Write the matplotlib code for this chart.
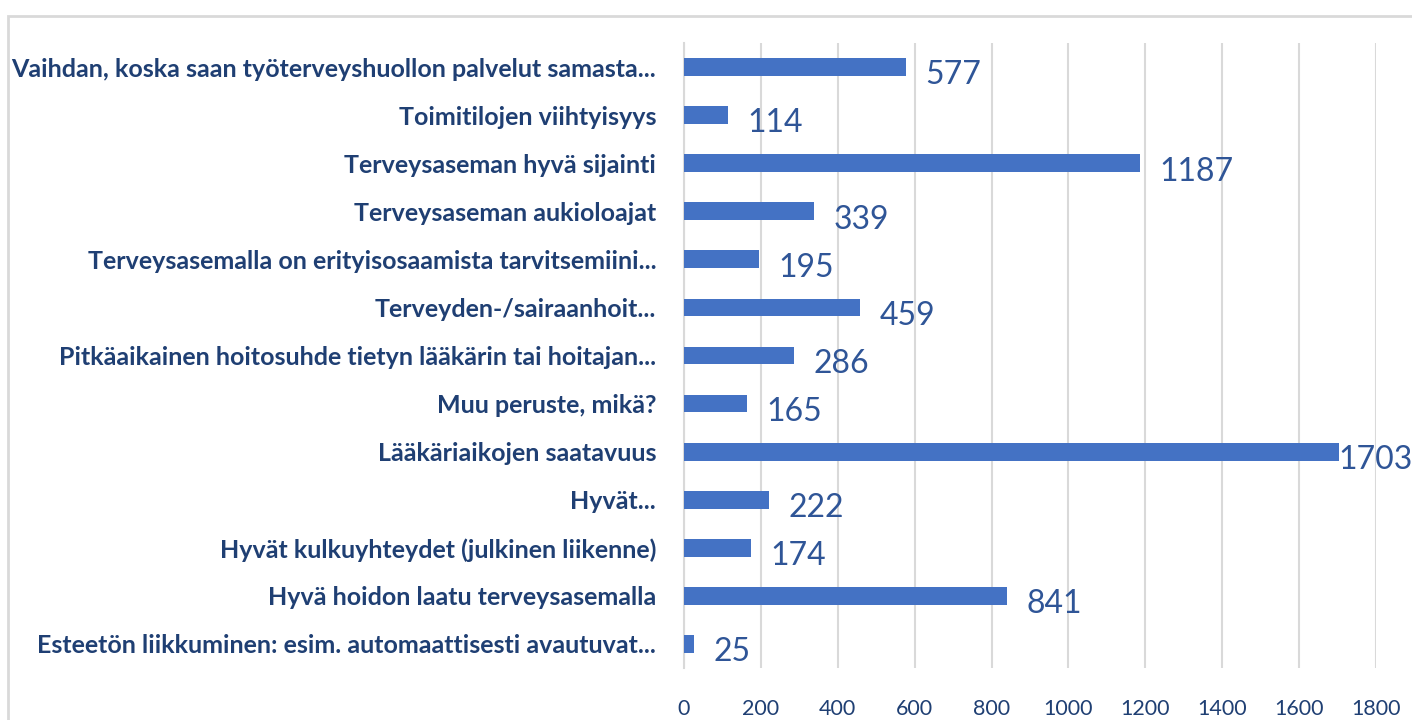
import matplotlib.pyplot as plt
from matplotlib.patches import Rectangle

categories = [
    'Vaihdan, koska saan työterveyshuollon palvelut samasta...',
    'Toimitilojen viihtyisyys',
    'Terveysaseman hyvä sijainti',
    'Terveysaseman aukioloajat',
    'Terveysasemalla on erityisosaamista tarvitsemiini...',
    'Terveyden-/sairaanhoit...',
    'Pitkäaikainen hoitosuhde tietyn lääkärin tai hoitajan...',
    'Muu peruste, mikä?',
    'Lääkäriaikojen saatavuus',
    'Hyvät...',
    'Hyvät kulkuyhteydet (julkinen liikenne)',
    'Hyvä hoidon laatu terveysasemalla',
    'Esteetön liikkuminen: esim. automaattisesti avautuvat...',
]
values = [577, 114, 1187, 339, 195, 459, 286, 165, 1703, 222, 174, 841, 25]
xticks = [0, 200, 400, 600, 800, 1000, 1200, 1400, 1600, 1800]

bar_color = '#4472C4'
text_color = '#1F3F73'
plt.rcParams['font.family'] = ['Lato', 'DejaVu Sans']

fig = plt.figure(figsize=(14.12, 7.2), dpi=100)
ax = fig.add_axes([0.4844, 0.0722, 0.4901, 0.8681])

y = list(range(len(categories)))
ax.barh(y, values, height=0.37, color=bar_color, zorder=3)
ax.set_ylim(len(categories) - 0.5, -0.5)
ax.set_xlim(0, 1800)
ax.set_xticks(xticks)
ax.set_yticks(y)
ax.set_yticklabels(categories, fontsize=18, fontweight='bold', color=text_color)
ax.tick_params(axis='y', length=0, pad=20)
ax.tick_params(axis='x', length=0, pad=22, labelsize=15.5, labelcolor=text_color)
ax.grid(axis='x', color='#D9D9D9', linewidth=1.5, zorder=0)
for s in ['top', 'right', 'bottom']:
    ax.spines[s].set_visible(False)
ax.spines['left'].set_color('#D9D9D9')
ax.spines['left'].set_linewidth(1.5)

for yi, v in zip(y, values):
    off = 14 if v < 1600 else 0
    ax.annotate(str(v), (v, yi), xytext=(off, -6), textcoords='offset points',
                va='center', ha='left', fontsize=23, color='#2F5597', zorder=4)

fig.patches.append(Rectangle((8 / 1412, -0.1), 1.2, 1 - 16 / 720 + 0.1,
                             transform=fig.transFigure, fill=False,
                             edgecolor='#D9D9D9', linewidth=2))

fig.savefig('out.png', dpi=100)
